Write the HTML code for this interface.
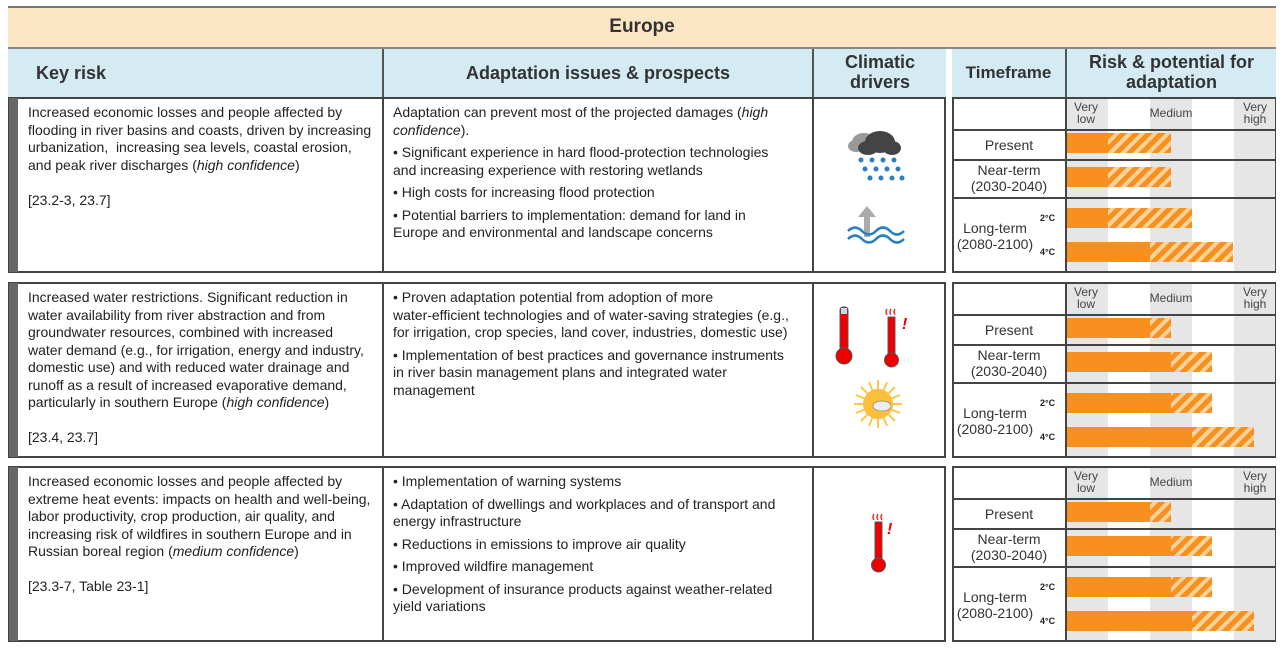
<!DOCTYPE html>
<html><head><meta charset="utf-8"><style>
*{box-sizing:border-box;margin:0;padding:0}
body{width:1282px;height:650px;background:#fff;position:relative;overflow:hidden;font-family:"Liberation Sans Narrow","Liberation Sans",sans-serif;color:#222}
.a{position:absolute}
.t{font-size:14px;line-height:17.5px;white-space:nowrap;color:#222}
.t p{margin-bottom:5px}
.hd{font-family:"Liberation Sans",sans-serif;font-weight:bold;color:#333;text-align:center}
.box{position:absolute;border:2px solid #444;background:#fff}
.band{position:absolute;background:#e6e6e6}
.bar{position:absolute;height:20px;background:#f7901e}
.h{position:absolute;height:20px;background:repeating-linear-gradient(-45deg,#f7901e 0 5px,#fbd29a 5px 9px)}
.tf{position:absolute;left:952px;width:114px;text-align:center;font-size:14px;line-height:16px;color:#333}
.sc{font-size:9px;font-weight:bold;font-family:"Liberation Sans",sans-serif}
.lbl{position:absolute;font-size:12px;line-height:12px;color:#444;text-align:center}
</style></head><body>
<div class="a" style="left:8px;top:6px;width:1268px;height:2px;background:#777"></div>
<div class="a" style="left:8px;top:8px;width:1268px;height:39px;background:#fce6c6"></div>
<div class="a hd" style="left:8px;top:16px;width:1268px;font-size:19px">Europe</div>
<div class="a" style="left:8px;top:47px;width:1268px;height:2px;background:#888"></div>
<div class="a" style="left:8px;top:49px;width:938px;height:49px;background:#d5ebf3"></div>
<div class="a" style="left:952px;top:49px;width:324px;height:49px;background:#d5ebf3"></div>
<div class="a" style="left:382px;top:49px;width:2px;height:49px;background:#555"></div>
<div class="a" style="left:812px;top:49px;width:2px;height:49px;background:#555"></div>
<div class="a" style="left:1065px;top:49px;width:2px;height:49px;background:#555"></div>
<div class="a hd" style="left:36px;top:63px;font-size:18px">Key risk</div>
<div class="a hd" style="left:384px;top:63px;width:428px;font-size:18px">Adaptation issues &amp; prospects</div>
<div class="a hd" style="left:814px;top:52px;width:132px;font-size:18px;line-height:20px">Climatic<br>drivers</div>
<div class="a hd" style="left:952px;top:63px;width:113px;font-size:17px">Timeframe</div>
<div class="a hd" style="left:1067px;top:52px;width:209px;font-size:18px;line-height:20px">Risk &amp; potential for<br>adaptation</div>

<!-- ROW 1 -->
<div class="box" style="left:8px;top:97px;width:938px;height:176px"></div>
<div class="a" style="left:9px;top:98px;width:9px;height:174px;background:#666"></div>
<div class="a" style="left:382px;top:97px;width:2px;height:176px;background:#444"></div>
<div class="a" style="left:812px;top:97px;width:2px;height:176px;background:#444"></div>
<div class="a t" style="left:28px;top:104px">Increased economic losses and people affected by<br>flooding in river basins and coasts, driven by increasing<br>urbanization,&nbsp; increasing sea levels, coastal erosion,<br>and peak river discharges (<i>high confidence</i>)<br><br style="line-height:10px">[23.2-3, 23.7]</div>
<div class="a t" style="left:393px;top:104px"><p>Adaptation can prevent most of the projected damages (<i>high</i><br><i>confidence</i>).</p><p>• Significant experience in hard flood-protection technologies<br>and increasing experience with restoring wetlands</p><p>• High costs for increasing flood protection</p><p>• Potential barriers to implementation: demand for land in<br>Europe and environmental and landscape concerns</p></div>
<svg class="a" style="left:846px;top:126px" width="66" height="58" viewBox="0 0 66 58">
<ellipse cx="18" cy="16" rx="12" ry="9" fill="#999"/><ellipse cx="10" cy="20" rx="8" ry="6" fill="#999"/>
<ellipse cx="34" cy="16" rx="15" ry="11" fill="#444"/><ellipse cx="22" cy="22" rx="10" ry="7" fill="#444"/><ellipse cx="46" cy="22" rx="9" ry="7" fill="#444"/>
<g fill="#2a7fc1"><circle cx="15" cy="34" r="2.5"/><circle cx="26" cy="34" r="2.5"/><circle cx="37" cy="34" r="2.5"/><circle cx="48" cy="34" r="2.5"/><circle cx="19" cy="43" r="2.5"/><circle cx="30" cy="43" r="2.5"/><circle cx="41" cy="43" r="2.5"/><circle cx="52" cy="43" r="2.5"/><circle cx="24" cy="52" r="2.5"/><circle cx="35" cy="52" r="2.5"/><circle cx="46" cy="52" r="2.5"/><circle cx="56" cy="52" r="2.5"/></g></svg>
<svg class="a" style="left:846px;top:205px" width="62" height="40" viewBox="0 0 62 40">
<rect x="18" y="10" width="6" height="22" fill="#aaa"/><polygon points="12,12 21,1 30,12" fill="#aaa"/>
<path d="M2 26 q7 -7 14 0 q7 7 14 0 q7 -7 14 0 q7 7 14 0" stroke="#2a7fc1" stroke-width="2.5" fill="none"/>
<path d="M2 34 q7 -7 14 0 q7 7 14 0 q7 -7 14 0 q7 7 14 0" stroke="#2a7fc1" stroke-width="2.5" fill="none"/></svg>

<!-- ROW 2 -->
<div class="box" style="left:8px;top:282px;width:938px;height:176px"></div>
<div class="a" style="left:9px;top:283px;width:9px;height:174px;background:#666"></div>
<div class="a" style="left:382px;top:282px;width:2px;height:176px;background:#444"></div>
<div class="a" style="left:812px;top:282px;width:2px;height:176px;background:#444"></div>
<div class="a t" style="left:28px;top:289px">Increased water restrictions. Significant reduction in<br>water availability from river abstraction and from<br>groundwater resources, combined with increased<br>water demand (e.g., for irrigation, energy and industry,<br>domestic use) and with reduced water drainage and<br>runoff as a result of increased evaporative demand,<br>particularly in southern Europe (<i>high confidence</i>)<br><br style="line-height:10px">[23.4, 23.7]</div>
<div class="a t" style="left:393px;top:289px"><p>• Proven adaptation potential from adoption of more<br>water-efficient technologies and of water-saving strategies (e.g.,<br>for irrigation, crop species, land cover, industries, domestic use)</p><p>• Implementation of best practices and governance instruments<br>in river basin management plans and integrated water<br>management</p></div>
<svg class="a" style="left:834px;top:305px" width="90" height="130" viewBox="0 0 90 130">
<rect x="6" y="2" width="8" height="44" rx="3" fill="#e00" stroke="#555" stroke-width="1"/><rect x="7" y="3" width="6" height="6" fill="#bde"/>
<circle cx="10" cy="51" r="8" fill="#e00" stroke="#555"/>
<rect x="54" y="12" width="7" height="38" fill="#e00" stroke="#555"/><circle cx="57.5" cy="55" r="7" fill="#e00" stroke="#555"/>
<path d="M53 10 q-2 -3 0 -6 M57 10 q-2 -3 0 -6 M61 10 q-2 -3 0 -6" stroke="#e33" fill="none" stroke-width="1.5"/>
<text x="68" y="24" fill="#e00" font-size="16" font-weight="bold" font-style="italic" font-family="Liberation Sans">!</text>
<g stroke="#fbc64a" stroke-width="2"><line x1="44" y1="75" x2="44" y2="123"/><line x1="20" y1="99" x2="68" y2="99"/><line x1="27" y1="82" x2="61" y2="116"/><line x1="27" y1="116" x2="61" y2="82"/><line x1="35" y1="77" x2="53" y2="121"/><line x1="53" y1="77" x2="35" y2="121"/><line x1="22" y1="90" x2="66" y2="108"/><line x1="22" y1="108" x2="66" y2="90"/></g>
<circle cx="44" cy="99" r="15" fill="#fbbf3c"/><ellipse cx="48" cy="101" rx="9" ry="5" fill="#eee" stroke="#888" stroke-width=".7"/></svg>

<!-- ROW 3 -->
<div class="box" style="left:8px;top:466px;width:938px;height:176px"></div>
<div class="a" style="left:9px;top:467px;width:9px;height:174px;background:#666"></div>
<div class="a" style="left:382px;top:466px;width:2px;height:176px;background:#444"></div>
<div class="a" style="left:812px;top:466px;width:2px;height:176px;background:#444"></div>
<div class="a t" style="left:28px;top:473px">Increased economic losses and people affected by<br>extreme heat events: impacts on health and well-being,<br>labor productivity, crop production, air quality, and<br>increasing risk of wildfires in southern Europe and in<br>Russian boreal region (<i>medium confidence</i>)<br><br style="line-height:10px">[23.3-7, Table 23-1]</div>
<div class="a t" style="left:393px;top:473px"><p>• Implementation of warning systems</p><p>• Adaptation of dwellings and workplaces and of transport and<br>energy infrastructure</p><p>• Reductions in emissions to improve air quality</p><p>• Improved wildfire management</p><p>• Development of insurance products against weather-related<br>yield variations</p></div>
<svg class="a" style="left:868px;top:510px" width="30" height="64" viewBox="0 0 30 64">
<rect x="7" y="12" width="7" height="38" fill="#e00" stroke="#555"/><circle cx="10.5" cy="55" r="7" fill="#e00" stroke="#555"/>
<path d="M6 10 q-2 -3 0 -6 M10 10 q-2 -3 0 -6 M14 10 q-2 -3 0 -6" stroke="#e33" fill="none" stroke-width="1.5"/>
<text x="19" y="24" fill="#e00" font-size="16" font-weight="bold" font-style="italic" font-family="Liberation Sans">!</text></svg>

<!-- right panels -->
<div id="rp"></div>
<script>
var rows=[
 {top:97,bars:[[1108,1171],[1108,1171],[1108,1192],[1150,1233]]},
 {top:282,bars:[[1150,1171],[1171,1212],[1171,1212],[1192,1254]]},
 {top:466,bars:[[1150,1171],[1171,1212],[1171,1212],[1192,1254]]}];
var h='';
rows.forEach(function(r){
 var T=r.top;
 h+='<div class="box" style="left:952px;top:'+T+'px;width:324px;height:176px"></div>';
 [[1067,1108],[1150,1192],[1234,1275]].forEach(function(b){h+='<div class="band" style="left:'+b[0]+'px;top:'+(T+2)+'px;width:'+(b[1]-b[0])+'px;height:172px"></div>';});
 h+='<div class="a" style="left:1065px;top:'+T+'px;width:2px;height:176px;background:#444"></div>';
 [32,62,100].forEach(function(y){h+='<div class="a" style="left:952px;top:'+(T+y)+'px;width:324px;height:2px;background:#444"></div>';});
 h+='<div class="lbl" style="left:1068px;top:'+(T+4)+'px;width:36px">Very<br>low</div>';
 h+='<div class="lbl" style="left:1140px;top:'+(T+10)+'px;width:62px">Medium</div>';
 h+='<div class="lbl" style="left:1236px;top:'+(T+4)+'px;width:38px">Very<br>high</div>';
 h+='<div class="tf" style="top:'+(T+40)+'px">Present</div>';
 h+='<div class="tf" style="top:'+(T+65)+'px">Near-term<br>(2030-2040)</div>';
 h+='<div class="tf" style="top:'+(T+123)+'px;left:950px;width:90px">Long-term<br>(2080-2100)</div>';
 h+='<div class="a sc" style="left:1040px;top:'+(T+116)+'px">2°C</div>';
 h+='<div class="a sc" style="left:1040px;top:'+(T+150)+'px">4°C</div>';
 var ys=[36,70,111,145];
 r.bars.forEach(function(b,i){var y=T+ys[i];
  h+='<div class="bar" style="left:1067px;top:'+y+'px;width:'+(b[0]-1067)+'px"></div>';
  h+='<div class="h" style="left:'+b[0]+'px;top:'+y+'px;width:'+(b[1]-b[0])+'px"></div>';});
});
document.getElementById('rp').innerHTML=h;
</script>
</body></html>
